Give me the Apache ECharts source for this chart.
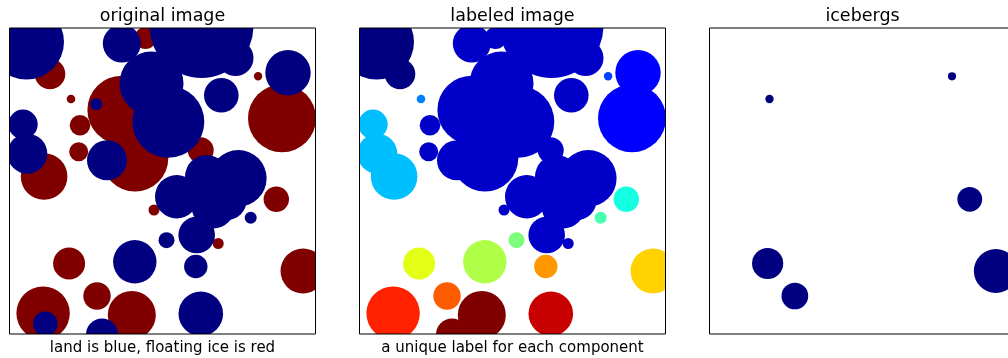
<!DOCTYPE html>
<html>
<head>
<meta charset="utf-8">
<script src="https://cdn.jsdelivr.net/npm/echarts@6/dist/echarts.min.js"></script>
<style>
  html, body { margin: 0; padding: 0; background: #ffffff; }
  #chart { width: 1008px; height: 358px; }
</style>
</head>
<body>
<div id="chart"></div>
<script>
// Circles that make up the scene, in image units (0..306, y pointing down).
const circleX = [17, 40.5, 61.5, 86.8, 70.5, 69.2, 13.5, 17.8, 34.6, 97.5,
                 112.2, 125.5, 112.3, 136, 142, 158.8, 192, 226, 211.8, 248.6,
                 278.5, 272.5, 191.2, 228.8, 197.2, 167.2, 203.8, 187.2, 217.2, 266.8,
                 241.2, 157, 208.7, 144.5, 186.3, 191.3, 293.5, 125.3, 59.6, 87.5,
                 33.6, 35.8, 122.3, 92.5];
const circleY = [14, 46, 71, 76.3, 97.3, 123.7, 96.3, 125.7, 148.5, 132.3,
                 82, 130.3, 15.6, 10, 55.5, 93.7, -2, 30, 67.3, 48.3,
                 44.7, 90.3, 122.3, 150.3, 148.7, 168.7, 178.7, 207, 172, 171.3,
                 189.7, 212.2, 215.5, 182, 238.5, 285.8, 243, 233.8, 235.5, 268,
                 285.2, 295.7, 287, 306.5];
const circleR = [37.5, 15.3, 4.3, 6, 10.3, 9.5, 14.7, 20, 23.3, 20,
                 34.3, 33.3, 19, 11, 32, 36, 52, 18, 17.3, 4.2,
                 22.7, 34, 13, 28.3, 21.7, 21.7, 21.7, 18.3, 20, 12.7,
                 6, 8, 5.5, 5.5, 11.7, 22.3, 22.5, 21.7, 16, 13.7,
                 26.7, 12.3, 24, 16];
// 'L' = land, 'I' = floating ice
const circleKind = ['L', 'I', 'I', 'L', 'I', 'I', 'L', 'L', 'I', 'L',
                    'I', 'I', 'L', 'I', 'L', 'L', 'L', 'L', 'L', 'I',
                    'L', 'I', 'I', 'L', 'L', 'L', 'L', 'L', 'L', 'I',
                    'L', 'L', 'I', 'I', 'L', 'L', 'I', 'L', 'I', 'I',
                    'I', 'L', 'I', 'L'];
// Connected-component label of each circle
const circleLabel = [0, 0, 4, 1, 1, 1, 5, 5, 5, 1,
                     1, 1, 1, 1, 1, 1, 1, 1, 1, 3,
                     2, 2, 1, 1, 1, 1, 1, 1, 1, 6,
                     7, 8, 1, 1, 12, 15, 11, 9, 10, 13,
                     14, 14, 16, 16];

const panelTitles = ['original image', 'labeled image', 'icebergs'];
const panelCaptions = ['land is blue, floating ice is red', 'a unique label for each component', ''];

const IMAGE_SIZE = 306;
const PANEL_LEFT = [9.5, 359.5, 709.5];
const PANEL_TOP = 28;
const PANEL_SIZE = 306;
const TITLE_FONT = '17.5px "DejaVu Sans", sans-serif';
const CAPTION_FONT = '15px "DejaVu Sans", sans-serif';

const LAND_COLOR = '#000080';
const ICE_COLOR = '#800000';

// matplotlib "jet" colormap
function jet(t) {
  function seg(points) {
    for (let i = 1; i < points.length; i++) {
      if (t <= points[i][0]) {
        const a = points[i - 1], b = points[i];
        return a[1] + (b[1] - a[1]) * (t - a[0]) / (b[0] - a[0]);
      }
    }
    return points[points.length - 1][1];
  }
  const r = seg([[0, 0], [0.35, 0], [0.66, 1], [0.89, 1], [1, 0.5]]);
  const g = seg([[0, 0], [0.125, 0], [0.375, 1], [0.64, 1], [0.91, 0], [1, 0]]);
  const b = seg([[0, 0.5], [0.11, 1], [0.34, 1], [0.65, 0], [1, 0]]);
  const h = v => Math.round(Math.max(0, Math.min(1, v)) * 255).toString(16).padStart(2, '0');
  return '#' + h(r) + h(g) + h(b);
}

const maxLabel = Math.max.apply(null, circleLabel);
const indices = circleX.map((_, i) => i);

// Components that contain no land at all are icebergs
const labelsWithLand = new Set(indices.filter(i => circleKind[i] === 'L').map(i => circleLabel[i]));

const row = (i, color) => [circleX[i], circleY[i], circleR[i], color];

const panel1 = indices.filter(i => circleKind[i] === 'I').map(i => row(i, ICE_COLOR))
  .concat(indices.filter(i => circleKind[i] === 'L').map(i => row(i, LAND_COLOR)));
const panel2 = indices.map(i => row(i, jet(circleLabel[i] / maxLabel)));
const panel3 = indices.filter(i => !labelsWithLand.has(circleLabel[i])).map(i => row(i, LAND_COLOR));

function renderCircle(params, api) {
  const c = api.coord([api.value(0), api.value(1)]);
  const s = api.size([api.value(2), api.value(2)]);
  return {
    type: 'circle',
    shape: { cx: c[0], cy: c[1], r: s[0] },
    style: { fill: params.data ? params.data[3] : api.value(3) }
  };
}

const grids = [], xAxes = [], yAxes = [], series = [], graphics = [];
[panel1, panel2, panel3].forEach((data, k) => {
  grids.push({ left: PANEL_LEFT[k], top: PANEL_TOP, width: PANEL_SIZE, height: PANEL_SIZE });
  const axisBase = {
    gridIndex: k, type: 'value', min: 0, max: IMAGE_SIZE,
    axisLine: { show: false }, axisTick: { show: false },
    axisLabel: { show: false }, splitLine: { show: false }
  };
  xAxes.push(Object.assign({}, axisBase));
  yAxes.push(Object.assign({ inverse: true }, axisBase));
  series.push({
    type: 'custom', xAxisIndex: k, yAxisIndex: k, clip: true,
    silent: true, animation: false,
    renderItem: renderCircle,
    encode: { x: 0, y: 1 },
    data: data
  });
  // axes frame
  graphics.push({
    type: 'rect', z: 100, silent: true,
    shape: { x: PANEL_LEFT[k], y: PANEL_TOP, width: PANEL_SIZE, height: PANEL_SIZE },
    style: { fill: null, stroke: '#000', lineWidth: 1 }
  });
  const cx = PANEL_LEFT[k] + PANEL_SIZE / 2;
  graphics.push({
    type: 'text', z: 100, silent: true, x: cx, y: 16.2,
    style: { text: panelTitles[k], font: TITLE_FONT, fill: '#000', align: 'center', verticalAlign: 'middle' }
  });
  if (panelCaptions[k]) {
    graphics.push({
      type: 'text', z: 100, silent: true, x: cx, y: 348,
      style: { text: panelCaptions[k], font: CAPTION_FONT, fill: '#000', align: 'center', verticalAlign: 'middle' }
    });
  }
});

const chart = echarts.init(document.getElementById('chart'), null, { renderer: 'canvas' });
chart.setOption({
  backgroundColor: '#ffffff',
  animation: false,
  grid: grids,
  xAxis: xAxes,
  yAxis: yAxes,
  series: series,
  graphic: graphics
});
</script>
</body>
</html>
